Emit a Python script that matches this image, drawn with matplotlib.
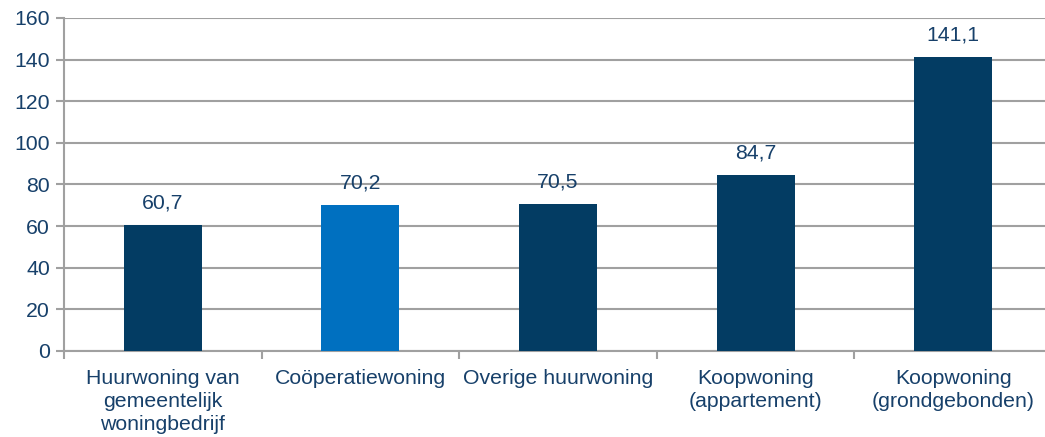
import numpy as np
import matplotlib.pyplot as plt
from matplotlib.ticker import MultipleLocator, FixedLocator

# data
categories = ['Huurwoning van\ngemeentelijk\nwoningbedrijf', 'Coöperatiewoning',
              'Overige huurwoning', 'Koopwoning\n(appartement)', 'Koopwoning\n(grondgebonden)']
values = [60.7, 70.2, 70.5, 84.7, 141.1]
bar_colors = ['#033c63', '#0070c0', '#033c63', '#033c63', '#033c63']

txt = '#17406a'
grid = '#a0a0a0'
fs = 15.3

plt.rcParams['font.family'] = ['Liberation Sans', 'DejaVu Sans']
fig = plt.figure(figsize=(10.45, 4.37), dpi=100)
ax = fig.add_axes([64 / 1045, 1 - 351 / 437, (1052 - 64) / 1045, (351 - 18) / 437])

x = np.arange(len(categories))
ax.bar(x, values, width=0.395, color=bar_colors, zorder=3)
for xi, v in zip(x, values):
    ax.annotate(f'{v:.1f}'.replace('.', ','), (xi, v), xytext=(0, 9), textcoords='offset points',
                ha='center', va='bottom', fontsize=fs, color=txt)

ax.set_xlim(-0.5, len(categories) - 0.5)
ax.set_ylim(0, 160)
ax.yaxis.set_major_locator(MultipleLocator(20))
ax.grid(axis='y', color=grid, linewidth=1.5, zorder=0)

ax.set_xticks(x)
ax.set_xticklabels(categories, fontsize=fs, color=txt, linespacing=1.25)
ax.xaxis.set_minor_locator(FixedLocator(np.arange(-0.5, len(categories), 1.0)))
ax.tick_params(axis='x', which='major', length=0, pad=13)
ax.tick_params(axis='x', which='minor', length=6, color=grid, width=1.5)
ax.tick_params(axis='y', length=6, color=grid, width=1.5, labelsize=fs, labelcolor=txt, pad=4)

for s in ['top', 'right']:
    ax.spines[s].set_visible(False)
for s in ['left', 'bottom']:
    ax.spines[s].set_color(grid)
    ax.spines[s].set_linewidth(1.5)

fig.savefig('out.png', dpi=100)
